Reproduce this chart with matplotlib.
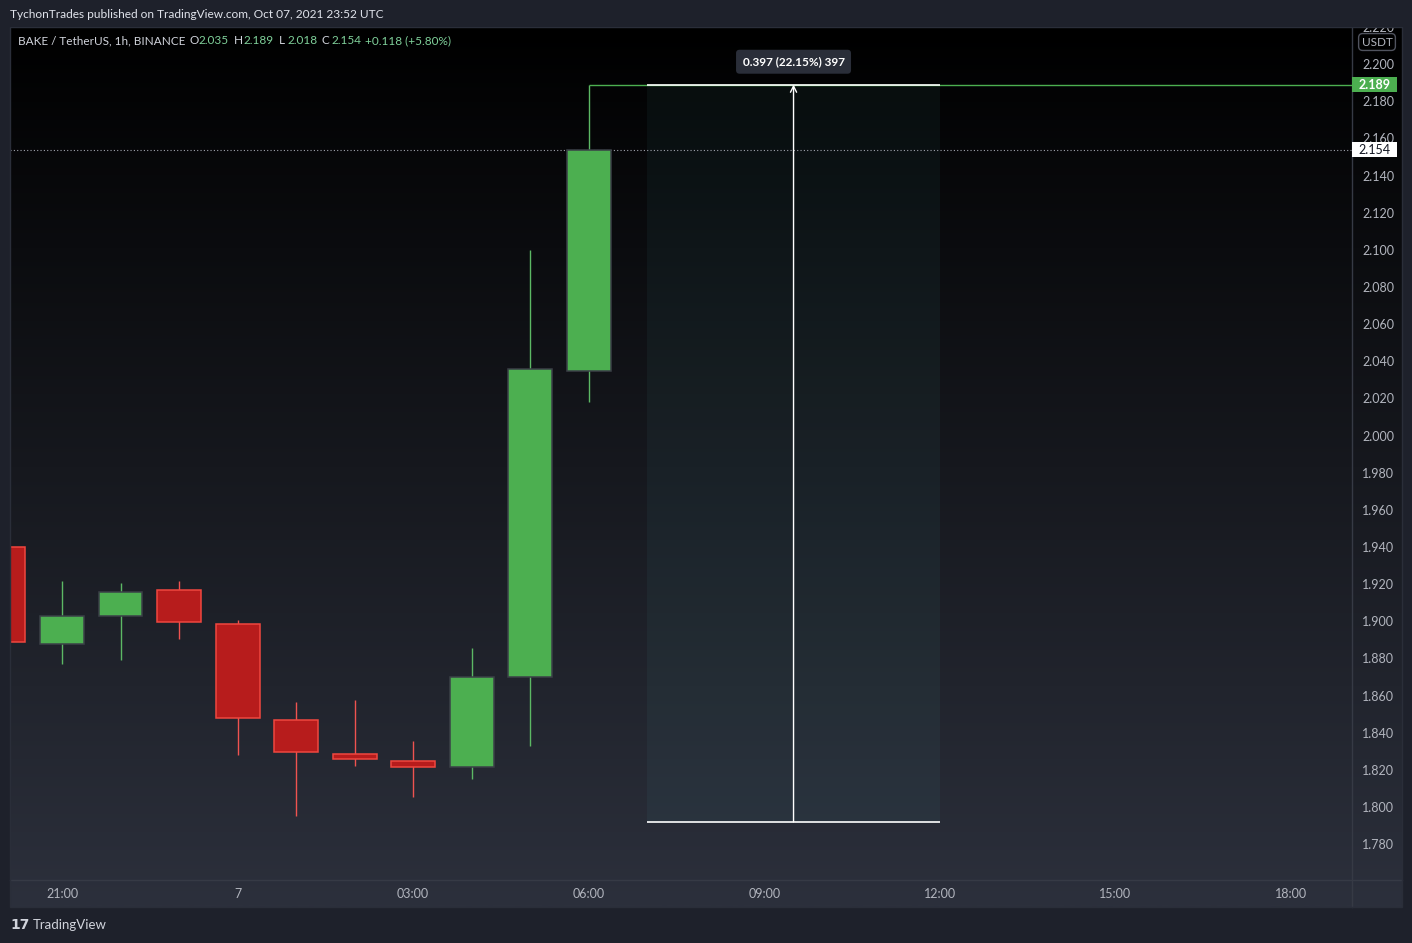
import matplotlib
matplotlib.use("Agg")
import matplotlib.pyplot as plt
import numpy as np
import matplotlib.transforms as mtransforms
from matplotlib.patches import Rectangle
from matplotlib.lines import Line2D

# ---------------- data ----------------
# candle times in hours relative to Oct 07 2021 00:00 UTC (1h candles)
hours  = [-4, -3, -2, -1, 0, 1, 2, 3, 4, 5, 6]
opens  = [1.9398, 1.8876, 1.9027, 1.9167, 1.8984, 1.8467, 1.8284, 1.8246, 1.8214, 1.8700, 2.035]
highs  = [1.9420, 1.9217, 1.9206, 1.9217, 1.9007, 1.8565, 1.8576, 1.8355, 1.8856, 2.0999, 2.189]
lows   = [1.8860, 1.8771, 1.8793, 1.8906, 1.8280, 1.7953, 1.8222, 1.8055, 1.8152, 1.8328, 2.018]
closes = [1.8887, 1.9027, 1.9156, 1.8994, 1.8479, 1.8294, 1.8257, 1.8214, 1.8700, 2.0356, 2.154]

time_ticks  = [-3, 0, 3, 6, 9, 12, 15, 18]
time_labels = ["21:00", "7", "03:00", "06:00", "09:00", "12:00", "15:00", "18:00"]
price_ticks = [1.78, 1.80, 1.82, 1.84, 1.86, 1.88, 1.90, 1.92, 1.94, 1.96, 1.98, 2.00,
               2.02, 2.04, 2.06, 2.08, 2.10, 2.12, 2.14, 2.16, 2.18, 2.20, 2.22]

last_close = 2.154
high_line = 2.189
measure_t0, measure_t1, measure_mid = 7, 12, 9.5
measure_low, measure_high = 1.792, 2.189
measure_label = "0.397 (22.15%) 397"

header = "TychonTrades published on TradingView.com, Oct 07, 2021 23:52 UTC"
legend_parts = [("BAKE / TetherUS, 1h, BINANCE", 18, "lbl"), ("O", 189, "lbl"), ("2.035", 199, "val"),
                ("H", 234, "lbl"), ("2.189", 244, "val"), ("L", 279, "lbl"), ("2.018", 287, "val"),
                ("C", 322, "lbl"), ("2.154", 331, "val"), ("+0.118 (+5.80%)", 365, "val")]

# ---------------- style ----------------
W, H = 1412, 943
FONT = "Lato"
outer = "#1e212b"
txt = "#b2b5be"
grid_line = "#363a45"
up_fill, up_edge, up_wick = "#4caf50", "#3b4047", "#5cb864"
dn_fill, dn_edge, dn_wick = "#b71c1c", "#f0473f", "#ef5350"

def fx(x):
    return x / W

def fy(y):
    return 1 - y / H

fig = plt.figure(figsize=(W / 100, H / 100), dpi=100, facecolor=outer)

# gradient background of the chart panel
ax_bg = fig.add_axes([fx(10), fy(907), fx(1392), 880 / H])
n = 256
top_c = np.array([0, 0, 0]) / 255
bot_c = np.array([44, 48, 60]) / 255
t = np.linspace(0, 1, n)[:, None]
grad = (top_c[None, :] * (1 - t) + bot_c[None, :] * t)[:, None, :]
ax_bg.imshow(grad, aspect="auto", extent=[0, 1, 0, 1], interpolation="bilinear")
ax_bg.set_axis_off()

# main axes
ax = fig.add_axes([fx(10), fy(880), 1342 / W, 853 / H])
ax.set_facecolor("none")
ax.set_xlim(-3.889, 19.043)
ax.set_ylim(1.7607, 2.2199)

for s in ["left", "top"]:
    ax.spines[s].set_visible(False)
for s in ["right", "bottom"]:
    ax.spines[s].set_color(grid_line)
    ax.spines[s].set_linewidth(1)

ax.yaxis.tick_right()
ax.set_yticks(price_ticks)
ax.set_yticklabels([f"{v:.3f}" for v in price_ticks])
ax.tick_params(axis="y", length=0, pad=7.2, labelcolor=txt, labelsize=9)
ax.set_xticks(time_ticks)
ax.set_xticklabels(time_labels)
ax.tick_params(axis="x", length=0, pad=6, labelcolor=txt, labelsize=9)
for lab in ax.get_xticklabels() + ax.get_yticklabels():
    lab.set_family(FONT)

# measurement box
ax.add_patch(Rectangle((measure_t0, measure_low), measure_t1 - measure_t0, measure_high - measure_low,
                       facecolor=(0.35, 0.75, 0.75), alpha=0.06, edgecolor="none", zorder=1))

# last price dotted line
ax.axhline(last_close, color="#a3a6af", lw=0.8, ls=(0, (1, 2)), zorder=1)

# candles
for h, o, hi, lo, c in zip(hours, opens, highs, lows, closes):
    up = c >= o
    ax.vlines(h, lo, hi, color=up_wick if up else dn_wick, lw=1, zorder=2)
    ax.bar(h, abs(c - o), bottom=min(o, c), width=0.75,
           color=up_fill if up else dn_fill, edgecolor=up_edge if up else dn_edge, lw=1.1, zorder=3)

# green high ray
ax.hlines(high_line, hours[-1], 19.043, color="#4caf50", lw=1, zorder=4)
# measurement lines
ax.hlines([measure_low, measure_high], measure_t0, measure_t1, color="white", lw=1.2, zorder=5)
ax.annotate("", xy=(measure_mid, measure_high), xytext=(measure_mid, measure_low),
            arrowprops=dict(arrowstyle="->", color="white", lw=1, shrinkA=0, shrinkB=0,
                            mutation_scale=11), zorder=5)
ax.text(measure_mid, 2.2013, measure_label, ha="center", va="center", color="white",
        fontsize=8.5, fontweight="bold", family=FONT, zorder=6,
        bbox=dict(boxstyle="round,pad=0.55,rounding_size=0.3", fc="#2a2e39", ec="none"))

# price tags on the axis
trans = mtransforms.blended_transform_factory(ax.transAxes, ax.transData)
tag_h = 15 / 1857.5
tag_w = 45 / 1342
for val, fc, tc in [(high_line, "#4caf50", "white"), (last_close, "white", "#131722")]:
    ax.add_patch(Rectangle((1.0, val - tag_h / 2), tag_w, tag_h, transform=trans, clip_on=False,
                           fc=fc, ec="none", zorder=10))
    ax.text(1.0 + tag_w / 2, val, f"{val:.3f}", transform=trans, ha="center", va="center",
            color=tc, fontsize=9, fontweight="bold" if fc != "white" else "normal",
            family=FONT, clip_on=False, zorder=11)

# panel separators / borders
fig.add_artist(Line2D([fx(1352), fx(1352)], [fy(880), fy(907)], color=grid_line, lw=1))
fig.add_artist(Line2D([fx(1352), fx(1402)], [fy(880), fy(880)], color=grid_line, lw=1))
fig.add_artist(Rectangle((fx(10), fy(907)), fx(1392), 880 / H, transform=fig.transFigure,
                         fill=False, ec="#2a2e39", lw=1, zorder=4))

# header strip (covers the top of the clipped 2.220 label)
fig.add_artist(Rectangle((0, fy(27)), 1, 27 / H, transform=fig.transFigure, fc=outer, ec="none", zorder=5))
fig.text(fx(10), fy(14), header, ha="left", va="center", color="#e0e3eb", fontsize=8.6,
         family=FONT, zorder=6)

for s, x, kind in legend_parts:
    fig.text(fx(x), fy(41), s, ha="left", va="center", fontsize=8.5, family=FONT,
             color="#d1d4dc" if kind == "lbl" else "#7fd09a", zorder=6)

fig.text(fx(1377), fy(42), "USDT", ha="center", va="center", color=txt, fontsize=8.5, family=FONT,
         zorder=6, bbox=dict(boxstyle="round,pad=0.25,rounding_size=0.35", fc="black", ec="#50535e", lw=1))

# footer logo
fig.text(fx(10), fy(925), "17", ha="left", va="center", color="#d1d4dc", fontsize=10,
         fontweight="bold", family="DejaVu Sans", zorder=6)
fig.text(fx(33), fy(925), "TradingView", ha="left", va="center", color="#d1d4dc", fontsize=9.5,
         family=FONT, zorder=6)

fig.savefig("out.png", dpi=100, facecolor=outer)
